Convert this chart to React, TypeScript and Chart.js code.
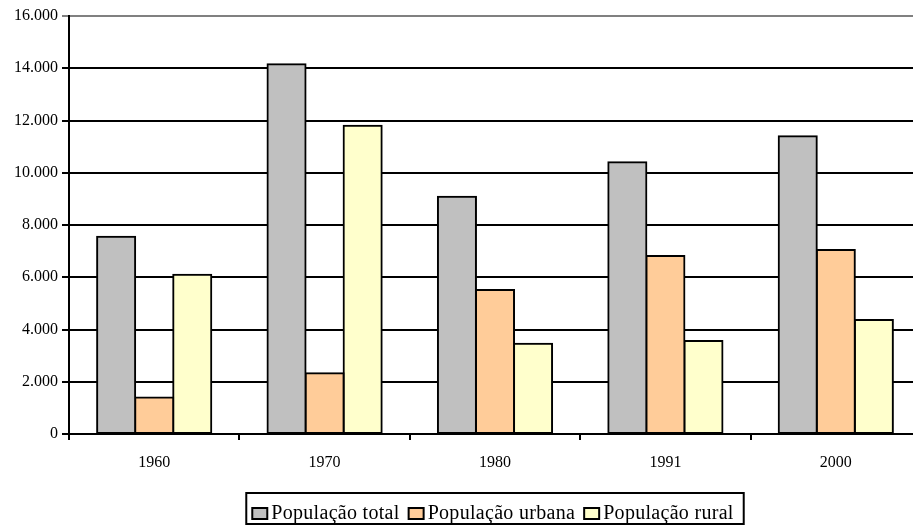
import React, { useEffect, useRef } from "react";
import { Chart, registerables } from "chart.js";

Chart.register(...registerables);

// Census years and population figures (thousands)
const years = ["1960", "1970", "1980", "1991", "2000"];
const populacaoTotal = [7550, 14150, 9080, 10400, 11400];
const populacaoUrbana = [1400, 2330, 5510, 6810, 7040];
const populacaoRural = [6100, 11800, 3450, 3560, 4360];

const seriesLabels = ["População total", "População urbana", "População rural"];
const seriesColors = ["#C0C0C0", "#FFCC99", "#FFFFCC"];

const yMin = 0;
const yMax = 16000;
const yStep = 2000;

const FONT = '"Liberation Serif", "Times New Roman", serif';

const formatThousands = (v: number) =>
  String(v).replace(/\B(?=(\d{3})+(?!\d))/g, ".");

// Framed legend drawn below the axis labels
const framedLegend = {
  id: "framedLegend",
  afterDraw(chart: any) {
    const ctx = chart.ctx as CanvasRenderingContext2D;
    const area = chart.chartArea;
    ctx.save();
    ctx.font = `20px ${FONT}`;
    (ctx as any).letterSpacing = "0.3px";
    const boxW = 15;
    const boxH = 11;
    const gap = 4;
    const itemGap = 9;
    const widths = seriesLabels.map((t) => ctx.measureText(t).width);
    const total =
      widths.reduce((a, w) => a + boxW + gap + w, 0) + itemGap * (widths.length - 1);
    const cx = (area.left + area.right) / 2;
    let x = cx - total / 2 - 2;
    const frameTop = 493;
    const frameBottom = 524;
    ctx.lineWidth = 2;
    ctx.strokeStyle = "#000";
    ctx.strokeRect(x - 6, frameTop, total + 16, frameBottom - frameTop);
    const baseline = 519;
    seriesLabels.forEach((label, i) => {
      ctx.fillStyle = seriesColors[i];
      ctx.fillRect(x, baseline - boxH, boxW, boxH);
      ctx.strokeRect(x, baseline - boxH, boxW, boxH);
      ctx.fillStyle = "#000";
      ctx.textBaseline = "alphabetic";
      ctx.textAlign = "left";
      ctx.fillText(label, x + boxW + gap, baseline);
      x += boxW + gap + widths[i] + itemGap;
    });
    ctx.restore();
  },
};

export default function App() {
  const canvasRef = useRef<HTMLCanvasElement | null>(null);

  useEffect(() => {
    const canvas = canvasRef.current;
    if (!canvas) return;
    const series = [populacaoTotal, populacaoUrbana, populacaoRural];
    const chart = new Chart(canvas, {
      type: "bar",
      data: {
        labels: years,
        datasets: series.map((data, i) => ({
          label: seriesLabels[i],
          data,
          backgroundColor: seriesColors[i],
          borderColor: "#000",
          borderWidth: 2,
          borderSkipped: false,
          inflateAmount: 1,
          barPercentage: 1,
          categoryPercentage: 0.67,
        })),
      },
      plugins: [framedLegend],
      options: {
        responsive: false,
        animation: false,
        devicePixelRatio: 1,
        layout: { padding: { top: 16, right: 3, bottom: 0, left: 0 } },
        plugins: {
          legend: { display: false },
          tooltip: { enabled: false },
        },
        scales: {
          x: {
            offset: true,
            grid: {
              offset: true,
              drawOnChartArea: false,
              drawTicks: true,
              tickLength: 6,
              color: "#000",
              lineWidth: 2,
            },
            border: { display: true, color: "#000", width: 2 },
            ticks: {
              color: "#000",
              font: { family: FONT, size: 16 },
              padding: 13,
              maxRotation: 0,
            },
            afterFit: (scale: any) => {
              scale.height = 91;
            },
          },
          y: {
            min: yMin,
            max: yMax,
            grid: {
              color: (c: any) => (c.tick && c.tick.value === yMax ? "#808080" : "#000"),
              lineWidth: 2,
              drawTicks: true,
              tickLength: 7,
            },
            border: { display: true, color: "#000", width: 2 },
            ticks: {
              stepSize: yStep,
              color: "#000",
              font: { family: FONT, size: 16 },
              padding: 4,
              callback: (v: any) => formatThousands(Number(v)),
            },
            afterFit: (scale: any) => {
              scale.width = 69;
            },
          },
        },
      },
    });
    return () => chart.destroy();
  }, []);

  return (
    <div
      style={{
        position: "absolute",
        left: 0,
        top: 0,
        width: 913,
        height: 525,
        overflow: "hidden",
        background: "#fff",
      }}
    >
      <canvas ref={canvasRef} width={924} height={525} style={{ display: "block" }} />
    </div>
  );
}
